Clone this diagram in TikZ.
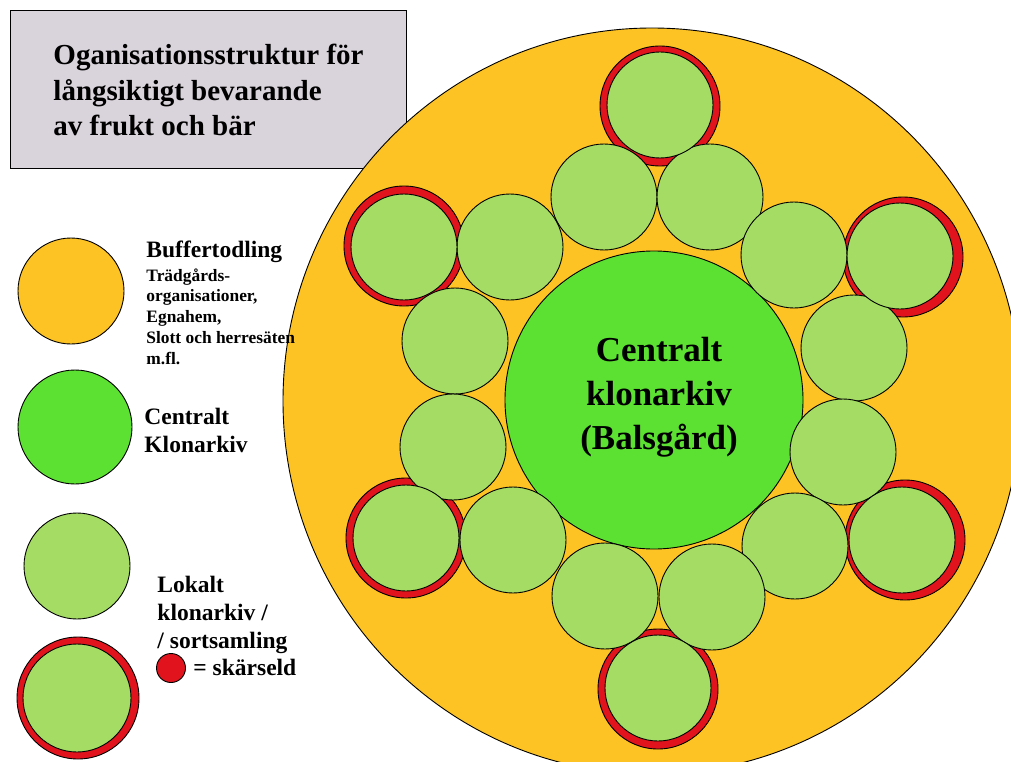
\documentclass[tikz,border=0pt]{standalone}
\usepackage{fontspec}
\setmainfont{Liberation Serif}
\usepackage{tikz}
\usepackage{xcolor}
\usetikzlibrary{shapes.geometric, positioning}
\definecolor{buffert}{RGB}{253,194,36}
\definecolor{central}{RGB}{92,224,50}
\definecolor{lokalgron}{RGB}{164,220,100}
\definecolor{skarseld}{RGB}{225,20,30}
\definecolor{titelgra}{RGB}{217,211,219}

\begin{document}
\begin{tikzpicture}[x=1pt,y=-1pt,line width=0.9pt,
 lokal/.style={circle,draw,fill=lokalgron,minimum size=106pt,inner sep=0pt}, % lokalt klonarkiv
 brand/.style={circle,draw,fill=skarseld,minimum size=120pt,inner sep=0pt}, % skärseld-ring
 txt/.style={inner sep=0pt,align=left,font=\fontsize{23.5}{28}\selectfont\bfseries}]
 \useasboundingbox (0,0) rectangle (1011,762); % fixes the margins
 % title box
 \node[draw,fill=titelgra,minimum width=396pt,minimum height=158pt,inner sep=0pt,anchor=north west] (titel) at (10,10) {};
 \node[inner sep=0pt,align=left,anchor=north west,font=\fontsize{29}{35.5}\selectfont\bfseries] (titeltext) at (53,44) {Oganisationsstruktur för\\långsiktigt bevarande\\av frukt och bär};
 % buffertodling and central archive
 \node[ellipse,draw,fill=buffert,minimum width=738pt,minimum height=746pt,inner sep=0pt] (buffert) at (652,401) {};
 \node[circle,draw,fill=central,minimum size=298pt,inner sep=0pt] (central) at (654,400) {};
 \node[inner sep=0pt,align=center,anchor=north,font=\fontsize{35}{44}\selectfont\bfseries] (centraltext) at (659,337) {Centralt\\klonarkiv\\(Balsgård)};
 % red rings first, greens on top
 \foreach \x/\y [count=\i] in {660/106, 404/246, 903/257, 406/538, 905/540, 658/689}
 {\node[brand] (brand\i) at (\x,\y) {};}
 \foreach \x/\y [count=\i] in {604/197, 710/197, 510/247, 794/255, 455/341, 854/348, 453/447, 843/452, 513/540, 795/546, 605/596, 712/597}
 {\node[lokal] (lokal\i) at (\x,\y) {};}
 \foreach \x/\y [count=\i] in {660/105, 404/247, 900/256, 406/538, 902/540, 658/688}
 {\node[lokal] (brandlokal\i) at (\x,\y) {};} % green inside each ring
 % legend
 \node[circle,draw,fill=buffert,minimum size=106pt,inner sep=0pt] (legbuffert) at (71,291) {};
 \node[circle,draw,fill=central,minimum size=114pt,inner sep=0pt] (legcentral) at (75,427) {};
 \node[lokal] (leglokal) at (77,566) {};
 \node[brand,minimum size=122pt] (legbrand) at (78,698) {};
 \node[lokal,minimum size=108pt] (legbrandlokal) at (77,698) {};
 \node[circle,draw,fill=skarseld,minimum size=29pt,inner sep=0pt] (legprick) at (171,668) {};
 \node[txt,anchor=base west] (legbufferttext) at (146,257) {Buffertodling};
 \node[txt,anchor=north west,font=\fontsize{17.4}{20.8}\selectfont\bfseries] (legbuffertsub) at (146,268) {Trädgårds-\\organisationer,\\Egnahem,\\Slott och herresäten\\m.fl.};
 \node[txt,anchor=north west] (legcentraltext) at (144,408) {Centralt\\Klonarkiv};
 \node[txt,anchor=north west] (leglokaltext) at (157,576) {Lokalt\\klonarkiv /\\/ sortsamling};
 \node[txt,anchor=base west] (legbrandtext) at (193,675) {= skärseld};
\end{tikzpicture}
\end{document}
